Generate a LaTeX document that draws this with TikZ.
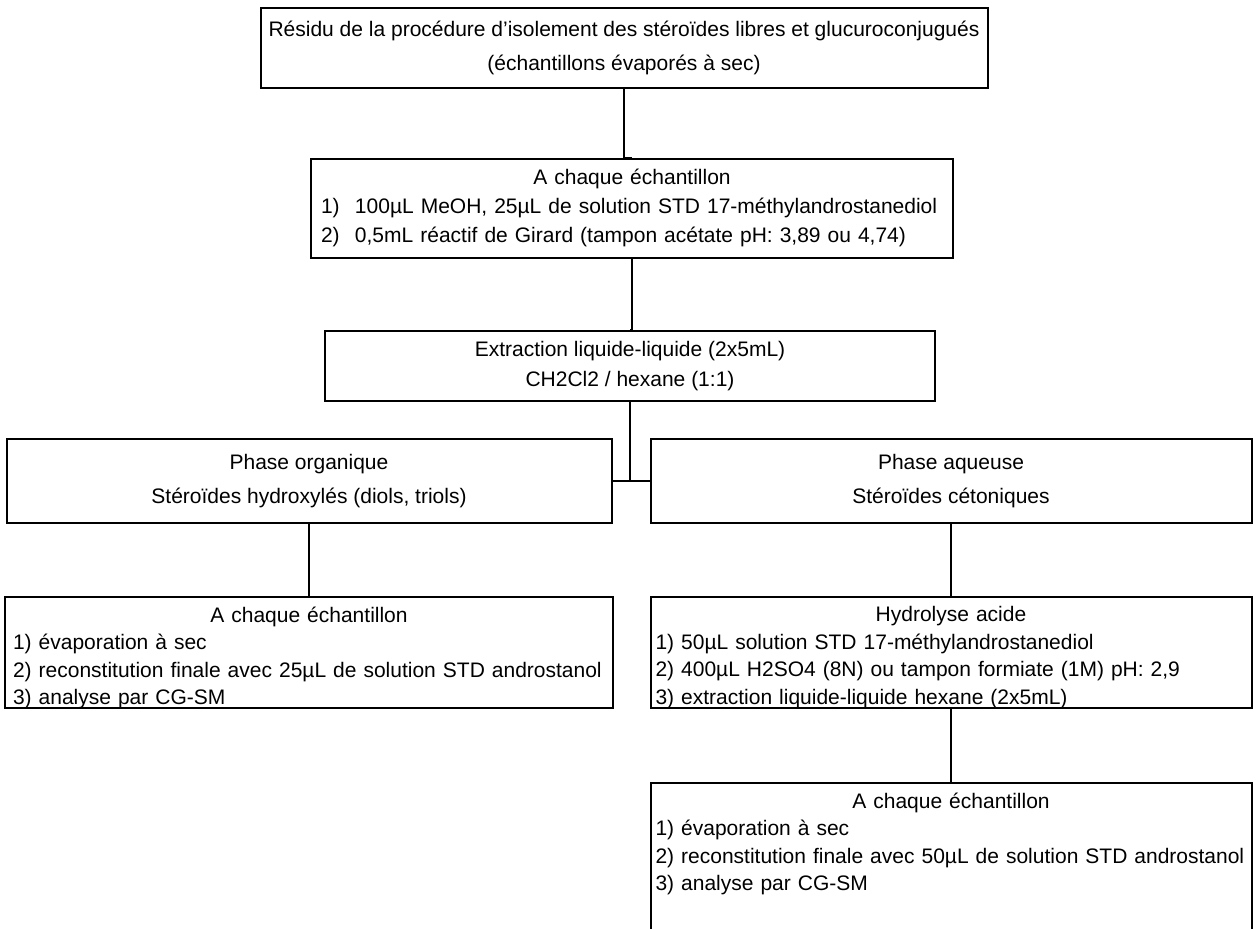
\documentclass[tikz,border=0pt]{standalone}
\usepackage{fontspec}
\setmainfont{Liberation Sans}
\usetikzlibrary{trees}
\newcommand{\entete}[1]{{\centering #1\par}}

\begin{document}
\begin{tikzpicture}[x=0.5pt, y=-0.5pt, line width=1pt,
	etape/.style = {shape=rectangle, draw, align=center, fill=white, inner sep=0pt, font=\fontsize{10.5}{17}\selectfont},
	liste/.style = {shape=rectangle, draw, align=left, fill=white, anchor=north, inner xsep=2.5pt, inner ysep=5pt, font=\fontsize{10.5}{13.75}\selectfont},
	jonction/.style = {edge from parent path={(\tikzparentnode.south) |- (\tikzchildnode.#1)}},
	vertical/.style = {edge from parent path={(\tikzparentnode.south) |- (\tikzchildnode.north)}},
	vertical,
	level 1/.style={level distance=55pt},
	level 2/.style={level distance=78.5pt},
	level 3/.style={level distance=57.5pt, sibling distance=321pt},
	level 4/.style={level distance=57.5pt, vertical},
	level 5/.style={level distance=64.75pt, vertical}]
	\clip (0,0) rectangle (1258,928);
	\node[etape, minimum width=363.5pt, minimum height=40pt] (residu) at (624,48) {R\'esidu de la proc\'edure d'isolement des st\'ero\"ides libres et glucuroconjugu\'es\\(\'echantillons \'evapor\'es \`a sec)}
	child[xshift=4pt] { node[liste, text width=311pt, inner xsep=5pt, text depth=32pt, font=\fontsize{10.5}{14.5}\selectfont] (ajout) {\entete{A chaque \'echantillon}\makebox[17pt][l]{1)}100µL MeOH, 25µL de solution STD 17-m\'ethylandrostanediol\\\makebox[17pt][l]{2)}0,5mL r\'eactif de Girard (tampon ac\'etate pH: 3,89 ou 4,74)}
		child[xshift=-1pt] { node[etape, minimum width=305pt, minimum height=35pt, font=\fontsize{10.5}{15}\selectfont] (extraction) {Extraction liquide-liquide (2x5mL)\\CH2Cl2 / hexane (1:1)}
			child[jonction=east] { node[etape, minimum width=302.5pt, minimum height=42pt] (organique) {Phase organique\\St\'ero\"ides hydroxyl\'es (diols, triols)}
				child { node[liste, text width=296pt, inner xsep=4pt, text depth=38pt] (finorg) {\entete{A chaque \'echantillon}1) \'evaporation \`a sec\\2) reconstitution finale avec 25µL de solution STD androstanol\\3) analyse par CG-SM} } }
			child[jonction=west] { node[etape, minimum width=300.5pt, minimum height=42pt] (aqueuse) {Phase aqueuse\\St\'ero\"ides c\'etoniques}
				child { node[liste, text width=295.5pt, text depth=38pt] (hydrolyse) {\entete{Hydrolyse acide}1) 50µL solution STD 17-m\'ethylandrostanediol\\2) 400µL H2SO4 (8N) ou tampon formiate (1M) pH: 2,9\\3) extraction liquide-liquide hexane (2x5mL)}
					child { node[liste, text width=295.5pt, text depth=80pt] (finaq) {\entete{A chaque \'echantillon}1) \'evaporation \`a sec\\2) reconstitution finale avec 50µL de solution STD androstanol\\3) analyse par CG-SM} } } } } };
\end{tikzpicture}
\end{document}
